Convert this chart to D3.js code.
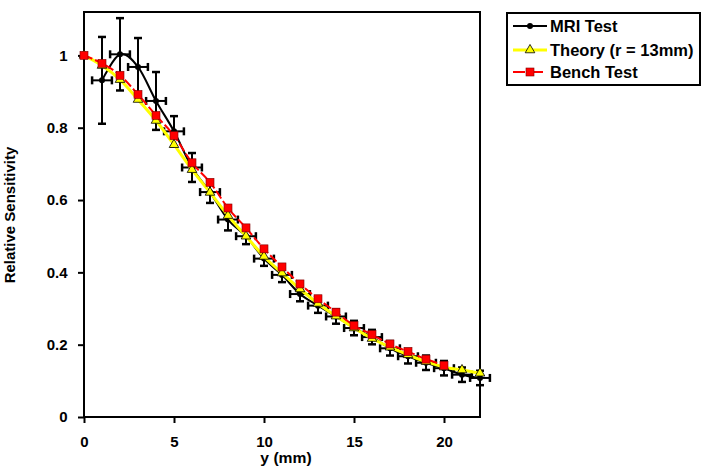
<!DOCTYPE html>
<html><head><meta charset="utf-8">
<script src="https://cdn.jsdelivr.net/npm/d3@7"></script>
<style>body{margin:0;background:#fff;} svg{display:block;font-family:"Liberation Sans",Arial,sans-serif;font-weight:bold;}</style>
</head><body><svg id="c" width="708" height="474"></svg>
<script>
const mriX = [1,2,3,4,5,6,7,8,9,10,11,12,13,14,15,16,17,18,19,20,21,22];
const mriY = [0.931,1.003,0.968,0.874,0.790,0.690,0.622,0.546,0.500,0.438,0.393,0.340,0.308,0.278,0.246,0.221,0.190,0.168,0.150,0.135,0.117,0.108];
const mriErrY = [0.12,0.10,0.08,0.08,0.042,0.04,0.03,0.03,0.022,0.02,0.02,0.02,0.02,0.02,0.02,0.02,0.02,0.02,0.02,0.02,0.02,0.02];
const mriErrX = 0.55;
const theoryX = [0,1,2,3,4,5,6,7,8,9,10,11,12,13,14,15,16,17,18,19,20,21,22];
const theoryY = [1.0,0.972,0.933,0.878,0.820,0.753,0.684,0.621,0.557,0.500,0.444,0.398,0.354,0.314,0.279,0.246,0.217,0.193,0.172,0.153,0.138,0.130,0.121];
const benchX = [0,1,2,3,4,5,6,7,8,9,10,11,12,13,14,15,16,17,18,19,20];
const benchY = [1.0,0.978,0.945,0.892,0.834,0.778,0.703,0.649,0.578,0.523,0.465,0.415,0.368,0.327,0.290,0.253,0.228,0.202,0.181,0.160,0.143];
const xTicks = [0,5,10,15,20];
const yTicks = [0,0.2,0.4,0.6,0.8,1];
const legendLabels = ["MRI Test","Theory (r = 13mm)","Bench Test"];

const svg = d3.select("#c");
const L=84,R=480,T=12,B=417;
const x = d3.scaleLinear().domain([0,22]).range([L,R]);
const y = d3.scaleLinear().domain([0,1.12]).range([B,T]);

// axes
const xa = svg.append("g").attr("transform",`translate(0,${B})`)
  .call(d3.axisBottom(x).tickValues(xTicks).tickFormat(d3.format("d")).tickSize(6).tickSizeOuter(0));
const ya = svg.append("g").attr("transform",`translate(${L},0)`)
  .call(d3.axisLeft(y).tickValues(yTicks).tickFormat(d=>d===0||d===1?String(d):d3.format(".1f")(d)).tickSize(6).tickSizeOuter(0));
[xa,ya].forEach(a=>{a.select(".domain").remove();a.selectAll("line").attr("stroke","#000").attr("stroke-width",2);
  a.selectAll("text").attr("font-size",15).attr("font-weight","bold").attr("fill","#000").attr("font-family","Liberation Sans, Arial, sans-serif");});
xa.selectAll("text").attr("y",0).attr("dy",0).attr("transform","translate(0,30)");
ya.selectAll("text").attr("dx","-0.5em");
svg.append("rect").attr("x",L).attr("y",T).attr("width",R-L).attr("height",B-T).attr("fill","none").attr("stroke","#000").attr("stroke-width",2);

svg.append("text").attr("transform","translate(286,463) scale(1.12,1)").attr("text-anchor","middle").attr("font-size",14).text("y (mm)");
svg.append("text").attr("transform","translate(15,215) rotate(-90)").attr("text-anchor","middle").attr("font-size",15).text("Relative Sensitivity");

const curve = d3.curveCardinal.tension(0);
const line = d3.line().x(d=>x(d[0])).y(d=>y(d[1])).curve(curve);
const mri = mriX.map((v,i)=>[v,mriY[i],mriErrY[i]]);
const th = theoryX.map((v,i)=>[v,theoryY[i]]);
const be = benchX.map((v,i)=>[v,benchY[i]]);

// MRI series
const gm = svg.append("g");
gm.append("path").attr("d",line(mri)).attr("fill","none").attr("stroke","#000").attr("stroke-width",2);
mri.forEach(d=>{
  const cx=x(d[0]), cy=y(d[1]);
  const y1=y(d[1]+d[2]), y2=y(d[1]-d[2]);
  const x1=x(d[0]-mriErrX), x2=x(d[0]+mriErrX);
  const ln=(a,b,c,e,w)=>gm.append("line").attr("x1",a).attr("x2",b).attr("y1",c).attr("y2",e).attr("stroke","#000").attr("stroke-width",w);
  ln(cx,cx,y1,y2,2);
  ln(cx-4,cx+4,y1,y1,2.5);
  ln(cx-4,cx+4,y2,y2,2.5);
  ln(x1,x2,cy,cy,2);
  ln(x1,x1,cy-4,cy+4,2.5);
  ln(x2,x2,cy-4,cy+4,2.5);
  gm.append("circle").attr("cx",cx).attr("cy",cy).attr("r",3).attr("fill","#000");
});

// Theory
const tri = d3.symbol().type(d3.symbolTriangle).size(40);
const gt = svg.append("g");
gt.append("path").attr("d",line(th)).attr("fill","none").attr("stroke","#ffff00").attr("stroke-width",3);
gt.selectAll("path.m").data(th).join("path").attr("class","m").attr("d",tri)
  .attr("transform",d=>`translate(${x(d[0])},${y(d[1])})`).attr("fill","#ffff00").attr("stroke","#000").attr("stroke-width",0.8);

// Bench
const gb = svg.append("g");
gb.append("path").attr("d",line(be)).attr("fill","none").attr("stroke","#ff0000").attr("stroke-width",2).attr("stroke-dasharray","9,3");
gb.selectAll("rect").data(be).join("rect").attr("x",d=>x(d[0])-4).attr("y",d=>y(d[1])-4).attr("width",8).attr("height",8)
  .attr("fill","#ff0000").attr("stroke","#800000").attr("stroke-width",0.6);

// Legend
const lg = svg.append("g");
lg.append("rect").attr("x",507).attr("y",13).attr("width",193).attr("height",72).attr("fill","#fff").attr("stroke","#000").attr("stroke-width",2);
const ly = [26,50,72];
legendLabels.forEach((t,i)=>{
  lg.append("text").attr("x",550).attr("y",ly[i]).attr("dy","0.36em").attr("font-size",16.5).text(t);
});
lg.append("line").attr("x1",513).attr("x2",547).attr("y1",ly[0]).attr("y2",ly[0]).attr("stroke","#000").attr("stroke-width",2);
lg.append("circle").attr("cx",530).attr("cy",ly[0]).attr("r",3).attr("fill","#000");
lg.append("line").attr("x1",513).attr("x2",547).attr("y1",ly[1]).attr("y2",ly[1]).attr("stroke","#ffff00").attr("stroke-width",3);
lg.append("path").attr("d",tri).attr("transform",`translate(530,${ly[1]})`).attr("fill","#ffff00").attr("stroke","#000").attr("stroke-width",0.8);
lg.append("line").attr("x1",513).attr("x2",547).attr("y1",ly[2]).attr("y2",ly[2]).attr("stroke","#ff0000").attr("stroke-width",2).attr("stroke-dasharray","12,6");
lg.append("rect").attr("x",526).attr("y",ly[2]-4).attr("width",8).attr("height",8).attr("fill","#ff0000").attr("stroke","#800000").attr("stroke-width",0.6);
</script></body></html>
